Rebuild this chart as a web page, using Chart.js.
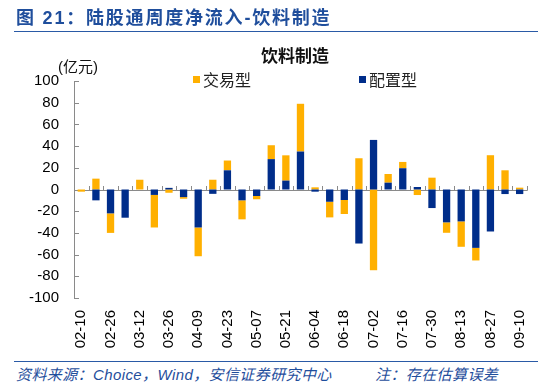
<!DOCTYPE html>
<html lang="zh-CN">
<head>
<meta charset="utf-8">
<title>陆股通周度净流入-饮料制造</title>
<script src="https://cdn.jsdelivr.net/npm/chart.js@4.4.1/dist/chart.umd.min.js"></script>
<style>
    html, body {
        margin: 0;
        padding: 0;
        background: #ffffff;
    }

    #quadro {
        position: relative;
        width: 550px;
        height: 385px;
        overflow: hidden;
        font-family: "Liberation Sans", Arial, "Noto Sans CJK SC", sans-serif;
    }

    #grafico {
        position: absolute;
        left: 0;
        top: 0;
    }

    .texto {
        position: absolute;
        white-space: nowrap;
        line-height: 1;
    }

    .cabecalho {
        left: 16px;
        top: 9px;
        font-size: 18px;
        font-weight: bold;
        color: #1f4e9c;
        letter-spacing: 1.8px;
    }

    .linha {
        position: absolute;
        left: 14px;
        width: 524px;
        height: 0;
        border-top: 1.5px solid #2a5aa6;
    }

    .titulo {
        left: 261px;
        top: 46px;
        font-size: 17px;
        font-weight: bold;
        color: #111111;
        font-family: "Noto Sans CJK SC", sans-serif;
    }

    .unidade {
        left: 58px;
        top: 59px;
        font-size: 15px;
        color: #111111;
    }

    .legenda {
        top: 71px;
        font-size: 16px;
        color: #222222;
        font-family: "Noto Sans CJK SC", sans-serif;
    }

    .quadrado {
        position: absolute;
        top: 76px;
        width: 7px;
        height: 7px;
    }

    .fonte {
        top: 367px;
        font-size: 15px;
        font-style: italic;
        letter-spacing: 0.4px;
        color: #1f4e9c;
    }
</style>
</head>
<body>
<div id="quadro">
    <canvas id="grafico" width="550" height="355"></canvas>

    <div class="texto cabecalho">图 21：陆股通周度净流入-饮料制造</div>
    <div class="linha" style="top: 31px;"></div>

    <div class="texto titulo">饮料制造</div>
    <div class="texto unidade">(亿元)</div>

    <div class="quadrado" style="left: 193px; background: #ffb000;"></div>
    <div class="texto legenda" style="left: 203px;">交易型</div>
    <div class="quadrado" style="left: 359px; background: #002d8a;"></div>
    <div class="texto legenda" style="left: 369px;">配置型</div>

    <div class="linha" style="top: 361px;"></div>
    <div class="texto fonte" style="left: 16px;">资料来源：Choice，Wind，安信证券研究中心</div>
    <div class="texto fonte" style="left: 375px;">注：存在估算误差</div>
</div>

<script>
const datas = ["02-10", "02-19", "02-26", "03-05", "03-12", "03-19", "03-26", "04-02",
    "04-09", "04-16", "04-23", "04-30", "05-07", "05-14", "05-21", "05-28",
    "06-04", "06-11", "06-18", "06-25", "07-02", "07-09", "07-16", "07-23",
    "07-30", "08-06", "08-13", "08-20", "08-27", "09-03", "09-10"];

// 配置型 (azul)
const valoresConfiguracao = [0, -10, -22, -26, 0, -5, 1.5, -7,
    -35, -4, 17.7, -10, -6, 28, 8.2, 35,
    -2, -11.3, -9.7, -49.8, 45.7, 6.3, 19.6, 2.3,
    -17.1, -30.3, -29.4, -53.8, -38.7, -4.2, -4.2];

// 交易型 (laranja)
const valoresTransacao = [-2, 10, -18, 0, 9, -30, -3, -1.5,
    -26.5, 9, 9, -17.5, -3, 12.8, 23.3, 44,
    2, -14.4, -12.9, 28.8, -74.4, 8, 5.8, -5.1,
    10.9, -9.6, -23.4, -11.6, 31.6, 17.7, 1.7];

const ticksEixoY = [-100, -80, -60, -40, -20, 0, 20, 40, 60, 80, 100];

const corEixo = "#8a8a8a";

// desenha o eixo y com marcas para dentro e a linha do zero com marcas
const pluginEixos = {
    id: "eixos",
    beforeDatasetsDraw: function (chart) {
        const ctx = chart.ctx;
        const area = chart.chartArea;
        const escalaX = chart.scales.x;
        const escalaY = chart.scales.y;
        const x0 = Math.round(area.left) + 0.5;
        const yZero = Math.round(escalaY.getPixelForValue(0)) + 0.5;
        const passo = escalaX.getPixelForValue(1) - escalaX.getPixelForValue(0);

        ctx.save();
        ctx.strokeStyle = corEixo;
        ctx.lineWidth = 1;
        ctx.beginPath();

        ctx.moveTo(x0, Math.round(area.top));
        ctx.lineTo(x0, Math.round(area.bottom) + 1);

        escalaY.ticks.forEach(function (tick) {
            const y = Math.round(escalaY.getPixelForValue(tick.value)) + 0.5;
            ctx.moveTo(x0, y);
            ctx.lineTo(x0 + 4.5, y);
        });

        ctx.moveTo(x0, yZero);
        ctx.lineTo(Math.round(area.right) + 0.5, yZero);

        for (let i = 1; i <= datas.length; i++) {
            const x = Math.round(escalaX.getPixelForValue(i) - passo / 2) + 0.5;
            ctx.moveTo(x, yZero);
            ctx.lineTo(x, yZero - 4.5);
        }

        ctx.stroke();
        ctx.restore();
    }
};

Chart.defaults.font.family = '"Liberation Sans", Arial, sans-serif';
Chart.defaults.font.size = 15;
Chart.defaults.color = "#000000";

new Chart(document.getElementById("grafico"), {
    type: "bar",
    data: {
        labels: datas,
        datasets: [{
            label: "配置型",
            data: valoresConfiguracao,
            backgroundColor: "#002d8a",
            stack: "fluxo",
            barPercentage: 0.5,
            categoryPercentage: 1
        }, {
            label: "交易型",
            data: valoresTransacao,
            backgroundColor: "#ffb000",
            stack: "fluxo",
            barPercentage: 0.5,
            categoryPercentage: 1
        }]
    },
    options: {
        responsive: false,
        animation: false,
        devicePixelRatio: 1,
        layout: {
            padding: { left: 29, right: 22, top: 81, bottom: 5 }
        },
        plugins: {
            legend: { display: false },
            title: { display: false },
            tooltip: { enabled: false }
        },
        scales: {
            x: {
                stacked: true,
                offset: true,
                grid: { display: false, drawTicks: false },
                border: { display: false },
                ticks: {
                    autoSkip: false,
                    minRotation: 90,
                    maxRotation: 90,
                    padding: 12,
                    callback: function (valor, indice) {
                        return indice % 2 === 0 ? datas[indice] : "";
                    }
                },
                afterFit: function (escala) {
                    escala.height = 52;
                }
            },
            y: {
                stacked: true,
                min: -100,
                max: 100,
                grid: { display: false, drawTicks: false },
                border: { display: false },
                ticks: { padding: 15 },
                afterBuildTicks: function (escala) {
                    escala.ticks = ticksEixoY.map(function (v) {
                        return { value: v };
                    });
                },
                afterFit: function (escala) {
                    escala.width = 45;
                }
            }
        }
    },
    plugins: [pluginEixos]
});
</script>
</body>
</html>
